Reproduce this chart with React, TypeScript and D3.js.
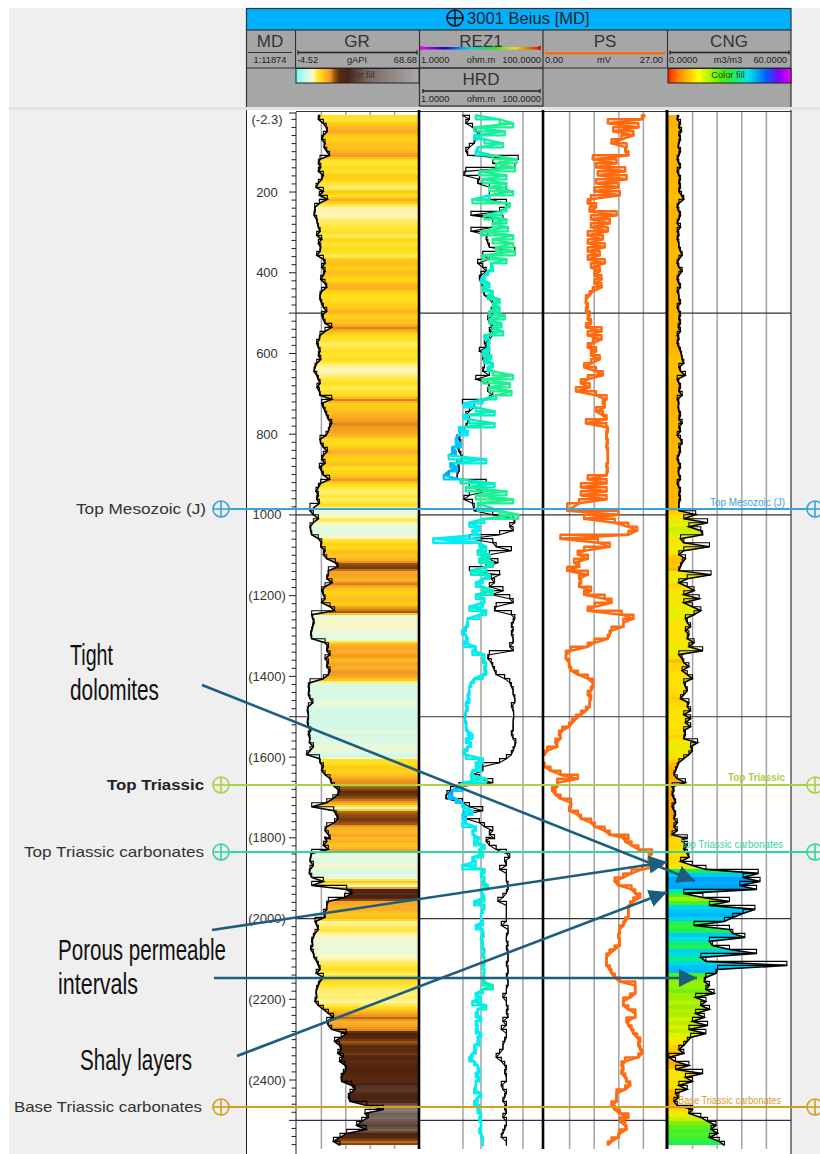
import React from "react";
import * as d3 from "d3";

// ---- Data ----
const SAMPLE_STEP = 9.91; // metres between listed samples
const sectionStarts = [10, 989.5, 1799];

const grA = [9.3,8.3,11.3,13,13.7,11.3,10.3,12.3,11.7,13.3,15,9.3,8.3,9.7,8.3,11.3,10.3,8.3,6.9,11.3,8.9,13.7,8.9,6.1,6.3,5.7,7.3,7.7,8.3,9.3,7.3,10.3,8.3,9.7,9.3,7.3,11.3,12.3,10.3,12.3,11.3,9.7,12.3,13.3,10.3,9.3,9.3,10.3,11.3,13.3,10.3,11.3,12.3,16.3,12.3,9.3,8.9,7.3,8.3,9.3,8.3,9.7,7.3,6.3,5.7,7.3,8.3,9.3,7.5,8.9,9.3,16.3,10.3,11.3,12.3,13.3,14.3,16.3,15,14.3,12.9,9.3,9.7,11.3,13.7,11.3,10.3,12.3,8.9,10.3,11.3,15,9.7,8.3,6.9,8.3,7.3,8.9];
const grB = [3.3,5.3,8.3,5.3,3.3,3.7,4.3,8.3,10.3,9.7,12.3,11.3,13.3,18.5,20,14.3,14.3,13.3,16.5,12.3,10.3,11.3,12.3,10.3,15.3,18,4.3,4.9,5.7,4.9,4.3,3.7,4.3,12.3,14.3,13.3,15.3,12.3,14.3,13.3,15.3,14.3,11.3,3.3,2.3,2.9,2.3,3.3,5,2.3,1.7,2.3,2.3,1.7,2.3,3.7,2.3,3.3,2.9,5.3,3.3,1.3,9,9.3,11.3,10.3,12.3,15.3,16,18,21,20,17,13.3,4.3,17.5,19,20,18,13.3,12.3,14.3,15.3];
const grC = [12.3,13.3,11.3,14.3,4.3,3.7,3.3,5.3,3.3,2.9,4.3,11.3,4.3,25.3,28.3,24,14.3,13.3,13.3,11.3,12.3,6.3,7.3,8.3,6.3,5.3,4.3,4.9,3.7,5.3,5.7,7.3,8.3,9.3,7,11.3,9.3,8.3,7.3,6.9,7.3,6.3,8.3,11.3,14.3,17.3,13.3,14.3,16.3,25,22,18,21,22,20,23.3,21,24.3,25,23.3,22,22.3,28.3,30.3,27.3,26.3,27.3,37.3,47.3,36.3,38.3,34.3,31.3,37,25.3,21.3,17.3,21.3];

const rezA = [8.2,20.4,34.3,7.7,24.8,7.7,11.4,23.2,8.8,8.2,15.7,39.1,17.9,36.6,9.4,26.5,10.7,26.5,13.8,34.3,13.8,7.2,30.1,26.5,21.8,11.4,26.5,15.7,28.2,10,34.3,15.7,34.3,17.9,36.6,10.7,26.5,14.8,15.7,13,11.4,10,13.8,10.7,15.7,13,20.4,15.7,20.4,13.8,24.8,13.8,21.8,15.7,23.2,11.4,13.8,13,13.8,10.7,14.8,11.4,15.7,13,15.7,34.3,10.7,30.1,13.8,32.1,17.9,10.7,5.2,8.2,16.8,5.2,6.4,16.8,4.3,6,4,3.8,4.6,3.3,3.8,2.9,12.2,3.1,4,2.9,2.4,4.6,16.8,5.6,26.5,8.2,34.3,8.8];
const rezB = [20.4,41.7,11.4,6.4,9.4,7.2,9.4,1.6,9.4,12.2,8.8,13.8,9.4,15.7,12.2,6.8,13.8,10.7,8.2,10.7,15.7,8.2,11.4,10.7,6.4,12.2,9.4,6,6,5.6,4.9,5.6,6,5.2,8.2,7.2,11.4,10.7,12.2,11.4,12.2,10.7,7.7,6.8,6.4,6.4,6,6.4,5.6,6,5.6,5.4,5.4,5.7,5.6,6,7.2,5.6,6.8,6,5.2,5.6,10.7,8.2,10,7.2,6.8,12.2,4.9,4.9,3.3,2.9,3.8,4.9,5.2,7.2,4.9,5.6,4.9,8.2,7.2,7.7,9.4];
const rezC = [8.8,7.7,11.4,9.4,10.7,7.2,8.2,4.9,11.4,10,11.4,10.7,13,10,10.7,11.4,7.7,11.4,10.7,10,10,10.7,8.2,10.7,11,10,10.7,10.4,11.4,10.7,11.4,11.4,10.7,11.4,11,11.4,10.7,15.7,10.7,8.2,10,7.2,12.2,8.8,8.2,10,8.2,8.8,8.2,10,8.8,9.4,7.7,8.2,7.2,6.4,7.7,8.8,9.4,8.2,9.4,8.2,8.2,7.7,10,8.8,7.7,9.4,8.8,10,9.4,10,10,9.4,10,10.7,10.7,10.7];

const hrdA = [4.9,6.4,5.6,7.2,8.2,9.4,8.2,7.7,6.4,5.6,6,41.7,15.7,36.6,5.6,5.2,9.4,8.8,13.8,26.5,13.8,13.8,26.5,26.5,20.4,6.8,23.2,15.7,15.7,6.8,13,12.2,13,13.8,36.6,10.7,13.8,8.8,10.7,12.2,10,9.4,10,10.7,10.7,11.4,13.8,15.7,16.8,14.8,15.7,13,13.8,15.7,13.8,15.7,13.8,11.4,12.2,9.4,13.8,10.7,11.4,11.4,10.7,13.8,8.2,13,13.8,13,15.7,13.8,4.9,7.7,6.4,5.6,6.4,6,5.6,4.3,4.6,4.3,4.6,4,4.3,4.6,4.9,4,4.3,4.3,4,4,12.2,6.4,12.2,6.4,5.2,7.2];
const hrdB = [7.7,15.7,34.3,36.6,30.1,34.3,20.4,6.4,15.7,17.9,32.1,13.8,13,19.1,12.2,6.4,20.4,14.8,16.8,13.8,23.2,14.8,30.1,34.3,17.9,16.8,32.1,36.6,34.3,32.1,34.3,32.1,34.3,34.3,30.1,34.3,13.8,13,14.8,15.7,16.8,17.9,24.8,30.1,32.1,34.3,34.3,36.6,36.6,32.1,34.3,35,35,34.3,34.3,34.3,32.1,34.3,38,36.6,34.3,32.1,26.5,20.4,10.7,10.7,7.2,9.4,15.7,4.3,3.1,2.7,2.6,4.9,6.4,10.7,5.2,5.6,9.4,11.4,15.7,13.8,16.8];
const hrdC = [13.8,12.2,13.8,17.9,26.5,30.1,24.8,26.5,20.4,26.5,26.5,26.5,28.2,28.2,26.5,23.2,19.1,26.5,26.5,26.5,26.5,26.5,21.8,28.2,28.2,26.5,26.5,28.2,26.5,28.2,28.2,28.2,26.5,28.2,28.2,26.5,28.2,28.2,26.5,26.5,23.2,26.5,26.5,28.2,26.5,28.2,23.2,26.5,21.8,26.5,26.5,24.8,23.2,23.2,20.4,17.9,21.8,24.8,26.5,24.8,26.5,26.5,21.8,23.2,26.5,24.8,23.2,26.5,24.8,26.5,23.2,26.5,26.5,24.8,23.2,21.8,26.5,26.5];

const psA = [22,21.3,13.8,20.5,15,19.4,16.8,14.6,17.9,17.6,18.3,10.5,15.7,11.2,17.6,11.6,17.9,11.2,16.1,10.9,16.4,10.1,9.4,11.2,9.8,15.7,10.1,14.2,10.1,13.8,9.4,12.7,9.4,13.1,9.4,12,9.4,13.1,10.1,12,10.9,12.4,10.9,12.4,10.5,9.8,9,9,9.4,9,9.8,9.4,10.1,9,12.4,9.4,12.4,10.5,9.4,11.2,10.1,12,10.1,8.6,11.2,12.7,9.4,7.9,9.8,6.8,11.2,13.5,12.7,13.1,11.2,12.7,13.5,9,13.5,13.8,13.5,13.5,13.8,13.5,13.8,13.8,13.8,13.8,13.5,13.8,13.5,9.4,13.5,7.9,13.5,7.9,13.5,7.5];
const psB = [4.9,16.1,8.6,15.3,18.3,20.2,18.3,3.4,11.6,14.2,8.6,7.2,9.4,6.4,7.5,4.9,9.4,7.5,7.9,7.5,10.1,8.6,13.1,14.6,10.9,9.4,16.8,19.4,17.2,17.2,14.6,14.2,13.8,10.9,9.4,5.7,4.6,4.6,5.3,5.3,5.7,7.2,9.4,10.5,10.5,10.1,9.4,10.1,9.8,9.8,9,7.9,6.8,6,5.3,3.8,3.1,3.4,2.3,2.7,0.5,-0.1,-3,-3,-0.1,1.2,3.4,7.2,2.7,2.7,1.6,2.3,3.4,5.7,5.7,5.3,7.2,7.9,10.1,10.9,13.1,14.2,18.3];
const psC = [17.2,17.6,19,20.5,23.5,22.8,22.8,25.7,21.3,19,17.2,15.3,16.1,19,19.8,20.9,19.4,18.7,18.3,18.3,18.3,17.6,17.2,16.4,16.4,16.1,16.4,16.4,15.3,14.2,13.5,13.5,13.5,14.2,14.6,15.3,16.4,19.8,19.8,19.8,18.7,17.2,17.2,18.3,19.8,19.8,17.9,18.3,19,19.4,20.2,20.9,20.5,20.9,21.3,20.5,17.6,16.8,17.2,16.8,17.6,17.9,18.7,17.6,15.7,15.7,15.7,14.6,15.3,16.4,18.3,16.4,17.6,17.9,16.4,16.1,14.6,13.8];

const cngA = [5.3,4.5,6.1,5.3,6.6,5.3,6.1,5.3,5,6.1,5.3,4.5,5.3,6.1,4.5,5.3,6.1,5.3,6.1,5.3,6.6,7.7,5.3,4.5,5.3,6.1,5.3,4.5,6.1,4.5,5.3,4.5,5.3,5.3,6.1,6.9,5.3,4.5,5.3,6.9,5.3,4.5,5.3,6.1,4.5,5.3,5.3,6.1,4.5,5.3,6.1,5.3,6.1,5,6.1,4.5,5.3,4.5,5.3,6.1,6.6,6.9,7.7,5.3,6.1,8.5,4.5,5.3,6.1,5.3,6.9,4.5,5.3,5,5.3,6.1,5.3,6.9,5.3,6.1,4.5,6.1,6.9,5.3,6.1,5.3,4.5,5.3,6.1,5,5.3,6.1,4.5,5.3,6.1,5.3,6.1,5.3];
const cngB = [5.3,13.5,7.7,19.3,10.2,16,16.9,6.1,7.7,20.2,7.7,5.3,8.5,6.9,6.1,5.3,21,9.4,5.3,9.4,12.7,7.7,15.2,7.7,11.9,16,12.7,8.5,9.4,11,8.5,10.2,9.4,12.7,10.2,16.9,5.3,6.9,7.7,10.2,6.9,9.4,11.9,7.7,8.5,9.4,7.7,6.1,10.2,9.4,11,7.7,11,8.5,11,7.7,8.5,7.7,14.4,11,11.9,10.2,7.7,5.3,4.5,3.7,2.9,4.5,8.5,2,2.9,2,2.9,3.7,2,2.9,3.7,2.9,4.5,2.9,4.5,2,9.4];
const cngC = [8.5,6.9,9.4,7.7,9.4,10.2,6.1,11.9,18.5,44,36.6,44.9,35,43.2,7.7,17,30,20.2,42.4,36.6,31.6,27.5,12.7,30,31.6,37.5,20.2,21.7,30,43.2,16,18.5,58,24.2,23.4,18.5,17.7,20.2,18.5,22.5,13.5,18.5,16,20.2,13.5,17.7,11.9,19.3,10.2,18.5,11,9.4,7.7,5.3,7.7,0.4,3.7,10.2,3.7,16.9,8.5,11.9,5.3,9.4,3.7,5.3,2.9,4.5,11.9,10.2,16,19.3,23.4,21,24.2,20.2,25,27.5];

const depthLabels = [200, 400, 600, 800, 1000, 1200, 1400, 1600, 1800, 2000, 2200, 2400];
const parenLabels = [1200, 1400, 1600, 1800, 2000, 2200, 2400];
const heavyDepths = [500, 1000, 1500, 2000, 2500];
const grGrid = [10.12, 24.76, 39.4, 54.04];
const rezGrid = [5, 10, 50];
const psGrid = [5.4, 10.8, 16.2, 21.6];
const cngGrid = [12, 24, 36, 48];

const topNames = ["Top Mesozoic (J)", "Top Triassic", "Top Triassic carbonates", "Base Triassic carbonates"];
const topDepths = [985.4, 1669, 1835, 2467];
const topColors = ["#3aa3dc", "#a9d141", "#35d3a2", "#d39d1d"];
const topTextColors = ["#333", "#222", "#333", "#333"];
const topLeftX = [76, 107, 24, 14];
const topLeftLen = [130, 97, 180, 188];
const topRightX = [710, 728, 680, 678];
const topRightLen = [75, 57, 103, 103];

type Row = { d: number; v: number };
const rows = (start: number, vals: number[]): Row[] => vals.map((v, i) => ({ d: start + i * SAMPLE_STEP, v }));
const join = (a: number[], b: number[], c: number[]) => [
  ...rows(sectionStarts[0], a),
  ...rows(sectionStarts[1], b),
  ...rows(sectionStarts[2], c),
];
const grData = join(grA, grB, grC);
const rezData = join(rezA, rezB, rezC);
const hrdData = join(hrdA, hrdB, hrdC);
const psData = join(psA, psB, psC);
const cngData = join(cngA, cngB, cngC);

// ---- Scales ----
const yD = d3.scaleLinear().domain([0, 2400]).range([111.3, 1080]);
const xGR = d3.scaleLinear().domain([-4.52, 68.68]).range([297, 419]);
const xREZ = d3.scaleLog().domain([1, 100]).range([421, 541]);
const xPS = d3.scaleLinear().domain([0, 27]).range([545, 668]);
const xCNG = d3.scaleLinear().domain([0, 60]).range([668, 791]);

const grColor = d3.scaleLinear<string>()
  .domain([-4.5, 1, 4, 6, 8, 10, 12, 14, 16, 18, 21, 26, 30, 38, 68])
  .range(["#66ffff", "#c8f8ea", "#e6fae0", "#fff6b8", "#ffe840", "#ffd810", "#ffc020", "#fba828", "#e89018", "#a05a10", "#5c2c10", "#4c2010", "#5c3a2a", "#7a6a62", "#aaaaaa"])
  .clamp(true);
const cngColor = d3.scaleLinear<string>()
  .domain([3, 6, 9, 13, 18, 22, 25, 30, 34, 40, 47, 52, 60])
  .range(["#ffa800", "#ffb800", "#ffe000", "#e8f000", "#a0f000", "#50f020", "#10f060", "#00e0e0", "#00c0ff", "#00a8ff", "#0090ff", "#3060e0", "#a030f0"])
  .clamp(true);
const rezColor = d3.scaleLog<string>()
  .domain([2.5, 4, 6, 10, 16, 30])
  .range(["#0090ff", "#00b8ff", "#00e8ff", "#00f0f0", "#00f0c0", "#20f090"])
  .clamp(true);

const lineOf = (xs: (v: number) => number) =>
  d3.line<Row>().x((p) => xs(p.v)).y((p) => yD(p.d)).curve(d3.curveLinear);
const stepOf = (xs: (v: number) => number) =>
  d3.line<Row>().x((p) => xs(p.v)).y((p) => yD(p.d)).curve(d3.curveStepAfter);

// One-pixel fill slices between the read samples, so the fill follows the drawn curve.
function slices(data: Row[], colorAt: (i: number, t: number) => string) {
  const out: { y: number; v: number; c: string }[] = [];
  data.forEach((p, i) => {
    const n = data[i + 1];
    if (!n) return;
    const y0 = Math.round(yD(p.d));
    const y1 = Math.round(yD(n.d));
    for (let y = y0; y < y1; y++) {
      const t = (y - y0) / Math.max(1, y1 - y0);
      out.push({ y, v: d3.interpolateNumber(p.v, n.v)(t), c: colorAt(i, t) });
    }
  });
  return out;
}
const grSlices = slices(grData, (i, t) => {
  const a = grData[i].v;
  const b = grData[i + 1].v;
  return grColor(t < 0.5 ? a : (a + b) / 2);
});
const cngSlices = slices(cngData, (i) => {
  const w = cngData.slice(Math.max(0, i - 1), i + 2);
  return cngColor(d3.mean(w, (p) => p.v) as number);
});

const SANS = "'Liberation Sans', Arial, sans-serif";
const NARROW = "'Liberation Sans Narrow', 'Liberation Sans', sans-serif";
const ARROW = "#1b5e80";
const HEAD = "#333";

function ScaleBar({ x1, x2, y, color = "#222" }: { x1: number; x2: number; y: number; color?: string }) {
  return (
    <g stroke={color} strokeWidth={1.3}>
      <line x1={x1} x2={x2} y1={y} y2={y} />
      <line x1={x1} x2={x1} y1={y - 2} y2={y + 2} />
      <line x1={x2} x2={x2} y1={y - 2} y2={y + 2} />
    </g>
  );
}

function ScaleText({ x1, x2, y, left, mid, right }: { x1: number; x2: number; y: number; left: string; mid: string; right: string }) {
  return (
    <g fontFamily={SANS} fontSize={9.3} fill="#222">
      <text x={x1} y={y}>{left}</text>
      <text x={(x1 + x2) / 2} y={y} textAnchor="middle">{mid}</text>
      <text x={x2} y={y} textAnchor="end">{right}</text>
    </g>
  );
}

function CrossCircle({ cx, cy, color }: { cx: number; cy: number; color: string }) {
  return (
    <g stroke={color} strokeWidth={1.6} fill="none">
      <circle cx={cx} cy={cy} r={8} />
      <line x1={cx - 8} x2={cx + 8} y1={cy} y2={cy} />
      <line x1={cx} x2={cx} y1={cy - 8} y2={cy + 8} />
    </g>
  );
}

export default function App() {
  const top = 112;
  const bottom = 1154;
  const tracks = [
    { id: "gr", x1: 296, x2: 419 },
    { id: "rez", x1: 420, x2: 543 },
    { id: "ps", x1: 544, x2: 667 },
    { id: "cng", x1: 668, x2: 791 },
  ];
  const minorTicks = d3.range(20, 2580, 20);

  return (
    <svg width={820} height={1154} viewBox="0 0 820 1154" style={{ position: "absolute", left: 0, top: 0, display: "block" }}>
      <defs>
        {tracks.map((t) => (
          <clipPath id={`clip-${t.id}`} key={t.id}>
            <rect x={t.x1} y={top} width={t.x2 - t.x1} height={bottom - top} />
          </clipPath>
        ))}
        <linearGradient id="grLegend">
          {grColor.domain().map((v, i) => (
            <stop key={i} offset={(v + 4.5) / 72.5} stopColor={grColor(v)} />
          ))}
        </linearGradient>
        <linearGradient id="cngLegend">
          <stop offset="0" stopColor="#ff2000" />
          <stop offset="0.08" stopColor="#ff8000" />
          <stop offset="0.25" stopColor="#ffff00" />
          <stop offset="0.45" stopColor="#40f000" />
          <stop offset="0.65" stopColor="#00e8e8" />
          <stop offset="0.8" stopColor="#0060ff" />
          <stop offset="0.9" stopColor="#8000ff" />
          <stop offset="1" stopColor="#f000f0" />
        </linearGradient>
        <linearGradient id="rezLegend">
          <stop offset="0" stopColor="#f000f0" />
          <stop offset="0.2" stopColor="#2000d0" />
          <stop offset="0.4" stopColor="#00d0f0" />
          <stop offset="0.6" stopColor="#20e030" />
          <stop offset="0.8" stopColor="#f0e000" />
          <stop offset="1" stopColor="#f01000" />
        </linearGradient>
        <marker id="head" markerUnits="userSpaceOnUse" markerWidth={20} markerHeight={22} refX={18} refY={9} orient="auto">
          <path d="M0,0 L18,9 L0,18 Z" fill={ARROW} />
        </marker>
      </defs>

      <rect x={0} y={0} width={820} height={1154} fill="#ffffff" />
      <rect x={9} y={8} width={811} height={1146} fill="#efefef" />
      <rect x={9} y={107} width={811} height={3} fill="#e3e3e3" />

      {/* Header */}
      <g>
        <rect x={246} y={8} width={545} height={99} fill="#a6a6a6" />
        <rect x={246} y={8} width={545} height={22} fill="#00b0ff" />
        <g stroke={HEAD} strokeWidth={1.2} fill="none">
          <rect x={246.5} y={8.5} width={544.5} height={21.5} />
          <line x1={246} x2={791} y1={68} y2={68} />
          <line x1={246.5} x2={246.5} y1={30} y2={107} />
          <line x1={791} x2={791} y1={30} y2={107} />
          {[295.5, 419.5, 543, 667.5].map((x) => (
            <line key={x} x1={x} x2={x} y1={30} y2={68} />
          ))}
          <rect x={419.5} y={68} width={123.5} height={38} />
        </g>
        <CrossCircle cx={455} cy={18} color="#111" />
        <text x={467} y={24} fontFamily={SANS} fontSize={16.6} fill="#222">3001 Beius [MD]</text>

        <g fontFamily={SANS} fontSize={17} fill="#333" textAnchor="middle">
          <text x={270} y={47}>MD</text>
          <text x={357} y={47}>GR</text>
          <text x={481} y={47}>REZ1</text>
          <text x={605} y={47}>PS</text>
          <text x={729} y={47}>CNG</text>
          <text x={481} y={85}>HRD</text>
        </g>
        <line x1={248} x2={292} y1={52.5} y2={52.5} stroke="#333" strokeWidth={1.2} />
        <text x={270} y={63} fontFamily={SANS} fontSize={9.3} fill="#222" textAnchor="middle">1:11874</text>

        <ScaleBar x1={298} x2={417} y={52.5} />
        <ScaleText x1={297} x2={417} y={63} left="-4.52" mid="gAPI" right="68.68" />

        <rect x={421} y={47} width={118} height={2.5} fill="url(#rezLegend)" />
        <rect x={420} y={46} width={3} height={4} fill="#f000f0" />
        <rect x={538} y={46} width={3} height={4} fill="#f01000" />
        <ScaleText x1={421} x2={541} y={63} left="1.0000" mid="ohm.m" right="100.0000" />

        <rect x={545} y={52} width={120} height={2.5} fill="#ff6a10" />
        <ScaleText x1={545} x2={663} y={63} left="0.00" mid="mV" right="27.00" />

        <ScaleBar x1={670} x2={789} y={52.5} />
        <ScaleText x1={669} x2={787} y={63} left="0.0000" mid="m3/m3" right="60.0000" />

        <ScaleBar x1={423} x2={540} y={91} />
        <ScaleText x1={421} x2={541} y={102} left="1.0000" mid="ohm.m" right="100.0000" />

        <rect x={296} y={68.5} width={123} height={14.5} fill="url(#grLegend)" stroke="#222" strokeWidth={1} />
        <text x={358} y={78} fontFamily={SANS} fontSize={9.3} fill="#333" textAnchor="middle">Color fill</text>
        <rect x={668} y={68.5} width={123} height={14.5} fill="url(#cngLegend)" stroke="#222" strokeWidth={1} />
        <text x={728} y={78} fontFamily={SANS} fontSize={9.3} fill="#333" textAnchor="middle">Color fill</text>
      </g>

      {/* Track background */}
      <rect x={246} y={110} width={545} height={1044} fill="#ffffff" />
      <line x1={296} x2={791} y1={111.5} y2={111.5} stroke="#333" strokeWidth={1.2} />

      {/* Grid */}
      <g stroke="#a3a3a3" strokeWidth={1.5}>
        {grGrid.map((v) => <line key={v} x1={xGR(v)} x2={xGR(v)} y1={top} y2={bottom - 5} />)}
        {rezGrid.map((v) => <line key={v} x1={xREZ(v)} x2={xREZ(v)} y1={top} y2={bottom - 5} />)}
        {psGrid.map((v) => <line key={v} x1={xPS(v)} x2={xPS(v)} y1={top} y2={bottom - 5} />)}
        {cngGrid.map((v) => <line key={v} x1={xCNG(v)} x2={xCNG(v)} y1={top} y2={bottom - 5} />)}
      </g>
      <g stroke="#333" strokeWidth={1.2}>
        {heavyDepths.map((d) => <line key={d} x1={296} x2={791} y1={yD(d)} y2={yD(d)} />)}
      </g>

      {/* Depth axis */}
      <g stroke="#222" strokeWidth={1}>
        <line x1={246.5} x2={246.5} y1={110} y2={bottom} />
        <line x1={296} x2={296} y1={112} y2={bottom} />
        {minorTicks.map((d) => {
          const long = depthLabels.includes(d) || d % 500 === 0;
          return <line key={d} x1={long ? 289 : 291.5} x2={296} y1={yD(d)} y2={yD(d)} />;
        })}
        <line x1={289} x2={296} y1={113} y2={113} />
      </g>
      <g fontFamily={SANS} fontSize={13} fill="#333" textAnchor="middle">
        <text x={267} y={124}>(-2.3)</text>
        {depthLabels.map((d) => (
          <text key={d} x={267} y={yD(d) + 4.5}>{parenLabels.includes(d) ? `(${d})` : d}</text>
        ))}
      </g>

      {/* GR */}
      <g clipPath="url(#clip-gr)">
        {grSlices.map((s, i) => (
          <rect key={i} x={xGR(s.v)} y={s.y} width={419 - xGR(s.v)} height={1} fill={s.c} shapeRendering="crispEdges" />
        ))}
        <path d={lineOf(xGR)(grData) || ""} fill="none" stroke="#000" strokeWidth={1.6} />
        <path d={stepOf(xGR)(grData) || ""} fill="none" stroke="#000" strokeWidth={1.1} />
      </g>

      {/* REZ1 + HRD */}
      <g clipPath="url(#clip-rez)">
        <path d={stepOf(xREZ)(hrdData) || ""} fill="none" stroke="#000" strokeWidth={1.2} />
        <path d={lineOf(xREZ)(hrdData) || ""} fill="none" stroke="#000" strokeWidth={1.1} />
        {rezData.slice(0, -1).map((p, i) => {
          const n = rezData[i + 1];
          const seg = `M${xREZ(p.v)},${yD(p.d)}L${xREZ(n.v)},${yD(n.d)}M${xREZ(p.v)},${yD(p.d)}V${yD(n.d)}H${xREZ(n.v)}`;
          return (
            <path key={i} d={seg} fill="none" stroke={rezColor(Math.max(p.v, n.v))} strokeWidth={2.4} strokeLinecap="round" strokeLinejoin="round" />
          );
        })}
      </g>

      {/* PS */}
      <g clipPath="url(#clip-ps)" fill="none" stroke="#ff6a10" strokeWidth={2.5} strokeLinejoin="round">
        <path d={lineOf(xPS)(psData) || ""} />
        <path d={stepOf(xPS)(psData) || ""} />
      </g>

      {/* CNG */}
      <g clipPath="url(#clip-cng)">
        {cngSlices.map((s, i) => (
          <rect key={i} x={668} y={s.y} width={xCNG(s.v) - 668} height={1} fill={s.c} shapeRendering="crispEdges" />
        ))}
        <path d={lineOf(xCNG)(cngData) || ""} fill="none" stroke="#000" strokeWidth={1.6} />
        <path d={stepOf(xCNG)(cngData) || ""} fill="none" stroke="#000" strokeWidth={1.1} />
      </g>

      {/* Track borders */}
      <g stroke="#000">
        <line x1={419} x2={419} y1={110} y2={bottom - 5} strokeWidth={2.6} />
        <line x1={543} x2={543} y1={110} y2={bottom - 5} strokeWidth={2.6} />
        <line x1={667} x2={667} y1={110} y2={bottom - 5} strokeWidth={3} />
        <line x1={791} x2={791} y1={110} y2={bottom} strokeWidth={1.2} stroke="#333" />
      </g>

      {/* Well tops */}
      {topNames.map((name, i) => {
        const y = yD(topDepths[i]);
        return (
          <g key={name}>
            <line x1={229} x2={807} y1={y} y2={y} stroke={topColors[i]} strokeWidth={2} />
            <CrossCircle cx={221} cy={y} color={topColors[i]} />
            <CrossCircle cx={815} cy={y} color={topColors[i]} />
            <text x={topLeftX[i]} y={y + 5} fontFamily={SANS} fontSize={14.5} fontWeight={i === 1 ? 700 : 400}
              fill={topTextColors[i]} textLength={topLeftLen[i]} lengthAdjust="spacingAndGlyphs">{name}</text>
            <text x={topRightX[i]} y={y - 3.5} fontFamily={SANS} fontSize={10} fontWeight={i === 1 ? 700 : 400}
              fill={topColors[i]} textLength={topRightLen[i]} lengthAdjust="spacingAndGlyphs">{name}</text>
          </g>
        );
      })}

      {/* Annotations */}
      <g stroke={ARROW} strokeWidth={2.6} fill="none">
        <line x1={202} y1={685} x2={695} y2={881} markerEnd="url(#head)" />
        <line x1={212} y1={930} x2={667} y2={862} markerEnd="url(#head)" />
        <line x1={237} y1={1056} x2={667} y2={892} markerEnd="url(#head)" />
        <line x1={214} y1={978} x2={697} y2={978} markerEnd="url(#head)" />
      </g>
      <g fontFamily={NARROW} fontSize={30} fill="#111">
        <text x={70} y={665} textLength={43} lengthAdjust="spacingAndGlyphs">Tight</text>
        <text x={70} y={700} textLength={89} lengthAdjust="spacingAndGlyphs">dolomites</text>
        <text x={58} y={960} textLength={168} lengthAdjust="spacingAndGlyphs">Porous permeable</text>
        <text x={58} y={994} textLength={80} lengthAdjust="spacingAndGlyphs">intervals</text>
        <text x={80} y={1070} textLength={112} lengthAdjust="spacingAndGlyphs">Shaly layers</text>
      </g>
    </svg>
  );
}
